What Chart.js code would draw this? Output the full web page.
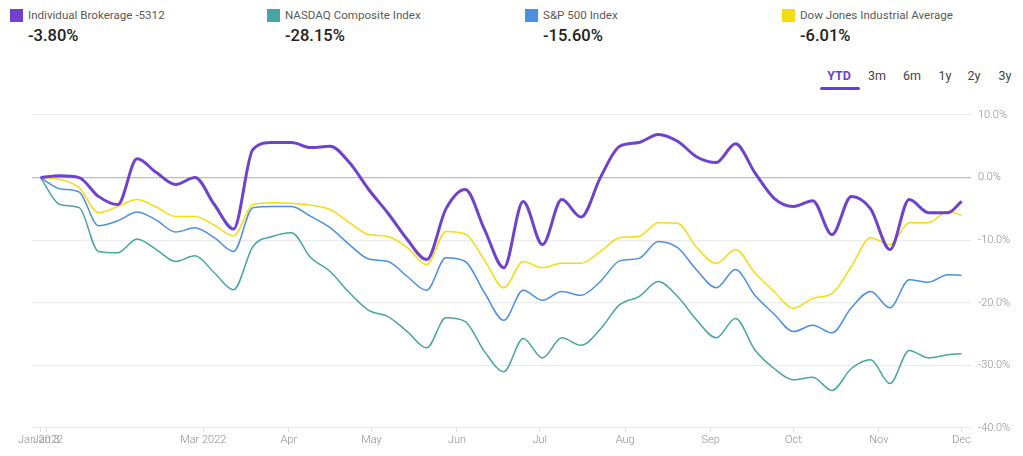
<!DOCTYPE html>
<html>
<head>
<meta charset="utf-8">
<script src="https://cdn.jsdelivr.net/npm/chart.js@4"></script>
<style>
  html, body { margin: 0; padding: 0; background: #fff; }
  body { width: 1023px; height: 456px; position: relative; overflow: hidden; font-family: Roboto, "Open Sans", sans-serif; }
  .item { position: absolute; top: 9px; }
  .sw { position: absolute; left: 0; top: 0; width: 13px; height: 13px; }
  .name { position: absolute; left: 18px; top: -1px; font-size: 11.6px; color: #5a5a5a; white-space: nowrap; }
  .val { position: absolute; left: 18px; top: 17px; font-size: 16.5px; font-weight: 500; color: #222; white-space: nowrap; }
  .btn { position: absolute; top: 68px; font-size: 12.5px; color: #444; transform: translateX(-50%); }
  .btn.on { color: #6a3fd0; font-weight: 700; }
  #bar { position: absolute; left: 820px; top: 87px; width: 40px; height: 3px; border-radius: 2px; background: #6a3fd0; }
  #wrap { position: absolute; left: 0; top: 100px; width: 1023px; height: 356px; }
</style>
</head>
<body>
<div id="legend"></div>
<div id="ranges"></div>
<div id="bar"></div>
<div id="wrap"><canvas id="chart"></canvas></div>
<script>
// weekly points, 2022
const dates = ["2022-01-01","2022-01-08","2022-01-15","2022-01-22","2022-01-29",
  "2022-02-05","2022-02-12","2022-02-19","2022-02-26",
  "2022-03-05","2022-03-12","2022-03-19","2022-03-26",
  "2022-04-02","2022-04-09","2022-04-16","2022-04-23","2022-04-30",
  "2022-05-07","2022-05-14","2022-05-21","2022-05-28",
  "2022-06-04","2022-06-11","2022-06-18","2022-06-25",
  "2022-07-02","2022-07-09","2022-07-16","2022-07-23","2022-07-30",
  "2022-08-06","2022-08-13","2022-08-20","2022-08-27",
  "2022-09-03","2022-09-10","2022-09-17","2022-09-24",
  "2022-10-01","2022-10-08","2022-10-15","2022-10-22","2022-10-29",
  "2022-11-05","2022-11-12","2022-11-19","2022-11-26","2022-12-01"];

const brokerage = [0, 0.3, 0, -3.0, -4.3, 3.0, 0.8, -1.1, 0, -4.3, -8.2, 4.5, 5.6, 5.6, 4.8, 5.0, 2.4, -1.9, -5.7, -9.9,
  -13.1, -5.0, -1.9, -8.3, -14.4, -3.8, -10.7, -3.5, -6.3, 0, 5.0, 5.6, 6.9, 5.8, 3.3, 2.4, 5.4, 0.8, -3.3, -4.6,
  -3.7, -9.1, -3.0, -5.0, -11.5, -3.5, -5.6, -5.6, -3.8];
const nasdaq = [0, -4.3, -4.8, -11.8, -12.0, -9.8, -11.5, -13.4, -12.5, -15.2, -17.9, -11.0, -9.4, -8.8, -12.8, -15.0, -18.4, -21.2, -22.2, -24.6,
  -27.2, -22.4, -23.0, -27.8, -31.0, -25.7, -28.8, -25.6, -26.8, -24.2, -20.3, -19.0, -16.6, -19.0, -22.8, -25.6, -22.5, -27.5, -30.5, -32.3,
  -31.9, -34.0, -30.5, -29.1, -32.9, -27.6, -28.8, -28.3, -28.15];
const sp500 = [0, -1.8, -2.3, -7.7, -6.9, -5.5, -6.8, -8.7, -8.0, -9.6, -11.8, -4.8, -4.6, -4.6, -6.2, -8.0, -10.7, -13.0, -13.4, -15.8,
  -18.0, -12.8, -13.4, -18.4, -22.8, -18.0, -19.6, -18.2, -18.8, -16.6, -13.3, -12.9, -10.2, -11.2, -14.8, -17.6, -14.7, -18.8, -21.8, -24.6,
  -23.6, -24.8, -20.8, -18.2, -20.8, -16.3, -16.7, -15.5, -15.6];
const dow = [0, -0.3, -1.6, -5.6, -4.6, -3.5, -4.7, -6.2, -6.2, -7.6, -9.3, -4.3, -4.0, -4.1, -4.4, -5.1, -7.2, -9.1, -9.4, -11.2,
  -13.9, -8.6, -9.0, -13.2, -17.6, -13.4, -14.4, -13.7, -13.7, -11.8, -9.6, -9.4, -7.2, -7.3, -11.2, -13.7, -11.5, -15.2, -18.2, -20.9,
  -19.3, -18.5, -14.2, -9.6, -10.7, -7.2, -7.2, -5.4, -6.0];

const names = ["Individual Brokerage -5312", "NASDAQ Composite Index", "S&P 500 Index", "Dow Jones Industrial Average"];
const totals = ["-3.80%", "-28.15%", "-15.60%", "-6.01%"];
const colors = ["#6f42ce", "#48a5a3", "#4d8fe3", "#f4dc10"];
const series = [brokerage, nasdaq, sp500, dow];

const tickDates = ["2022-01-01", "2022-01-03", "2022-03-01", "2022-04-01", "2022-05-01", "2022-06-01",
  "2022-07-01", "2022-08-01", "2022-09-01", "2022-10-01", "2022-11-01", "2022-12-01"];
const tickLabels = ["Jan 2022", "Jan 3", "Mar 2022", "Apr", "May", "Jun", "Jul", "Aug", "Sep", "Oct", "Nov", "Dec"];
const yTicks = [10, 0, -10, -20, -30, -40];

const ranges = ["YTD", "3m", "6m", "1y", "2y", "3y"];
const rangeX = [839, 877, 912, 945, 974, 1005];

// header
const legendX = [10, 267, 525, 782];
let legendHtml = "";
names.forEach((n, i) => {
  legendHtml += '<div class="item" style="left:' + legendX[i] + 'px">' +
    '<div class="sw" style="background:' + colors[i] + '"></div>' +
    '<div class="name">' + n.replace("&", "&amp;") + '</div>' +
    '<div class="val">' + totals[i] + '</div></div>';
});
document.getElementById("legend").innerHTML = legendHtml;
document.getElementById("ranges").innerHTML = ranges.map((r, i) =>
  '<div class="btn' + (i === 0 ? ' on' : '') + '" style="left:' + rangeX[i] + 'px">' + r + '</div>').join("");

const day0 = Date.parse("2022-01-01");
const toDay = d => (Date.parse(d) - day0) / 86400000;
const xs = dates.map(toDay);
const tickDays = tickDates.map(toDay);

const datasets = series.map((s, i) => ({
  label: names[i],
  data: s.map((v, j) => ({ x: xs[j], y: v })),
  borderColor: colors[i],
  borderWidth: i === 0 ? 3 : 1.5,
  pointRadius: 0,
  fill: false,
  cubicInterpolationMode: 'monotone'
}));

new Chart(document.getElementById("chart"), {
  type: 'line',
  data: { datasets: datasets },
  options: {
    responsive: true,
    maintainAspectRatio: false,
    animation: false,
    layout: { padding: { top: 15, left: 32 } },
    plugins: {
      legend: { display: false },
      tooltip: { enabled: false }
    },
    scales: {
      x: {
        type: 'linear',
        min: -3.1,
        max: 337.4,
        afterBuildTicks: scale => { scale.ticks = tickDays.map(v => ({ value: v })); },
        afterFit: scale => { scale.height = 28; },
        ticks: {
          autoSkip: false,
          maxRotation: 0,
          padding: 2,
          color: '#8f8f8f',
          font: { family: 'Roboto', size: 11, weight: '300' },
          callback: (v, idx) => tickLabels[idx]
        },
        grid: { drawOnChartArea: false, tickLength: 4, color: '#d8dde6' },
        border: { display: false }
      },
      y: {
        position: 'right',
        min: -40,
        max: 10,
        afterBuildTicks: scale => { scale.ticks = yTicks.map(v => ({ value: v })); },
        afterFit: scale => { scale.width = 52; },
        ticks: {
          padding: 7,
          color: '#8f8f8f',
          font: { family: 'Roboto', size: 11, weight: '300' },
          callback: v => v.toFixed(1) + '%'
        },
        grid: {
          drawTicks: false,
          lineWidth: 1.2,
          color: ctx => (ctx.tick && ctx.tick.value === 0 ? '#bdbdbd' : '#ececec')
        },
        border: { display: false }
      }
    }
  }
});
</script>
</body>
</html>
